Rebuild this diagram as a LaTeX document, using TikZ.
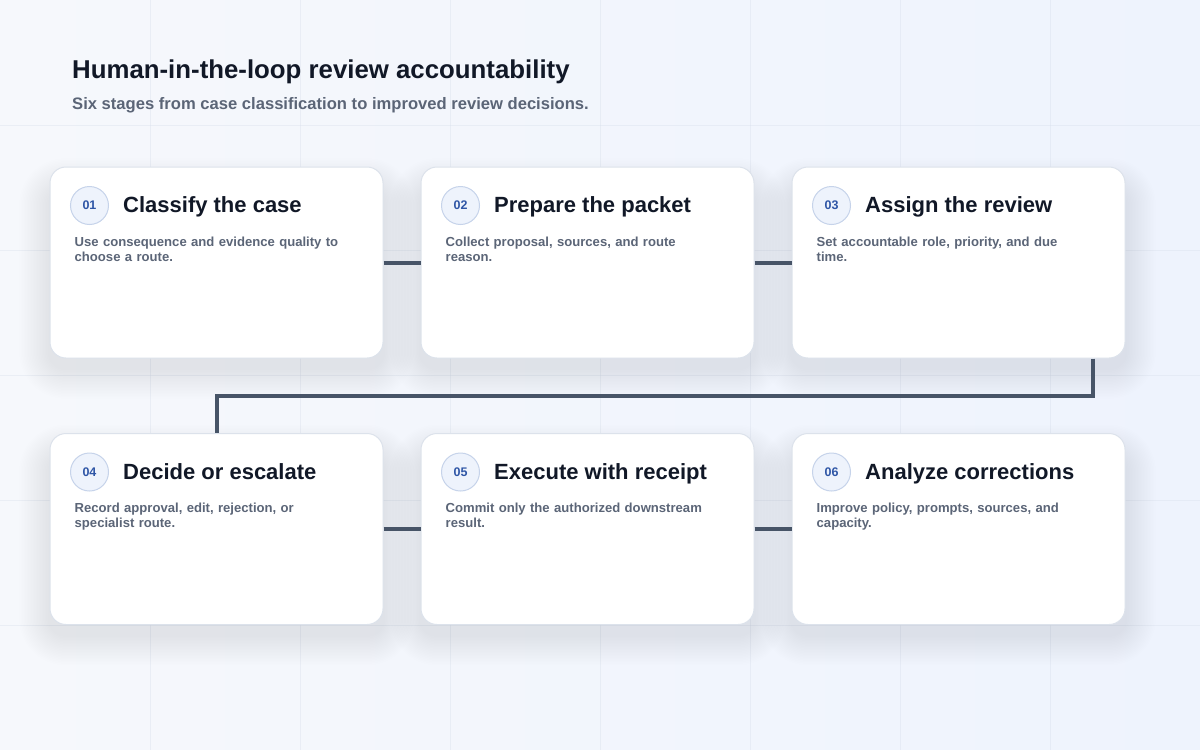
\documentclass[tikz,border=0pt]{standalone}
\usepackage{fontspec}
\setmainfont{Liberation Sans}
\usetikzlibrary{positioning}
\definecolor{hl-ink}{HTML}{111827}
\definecolor{hl-muted}{HTML}{5B6577}
\definecolor{hl-blue}{HTML}{2F56A6}
\definecolor{hl-ring}{HTML}{C6D3EA}
\definecolor{hl-disc}{HTML}{EEF3FC}
\definecolor{hl-edge}{HTML}{DCE2EB}
\definecolor{hl-link}{HTML}{475467}
\definecolor{hl-grid}{HTML}{D5DDEA}
\definecolor{hl-bgA}{HTML}{F6F8FC}
\definecolor{hl-bgB}{HTML}{EEF3FD}
\definecolor{hl-shadow}{HTML}{8A94A8}
\pgfdeclarelayer{bg}
\pgfdeclarelayer{shade}
\pgfsetlayers{bg,shade,main}
\hyphenpenalty=10000
\exhyphenpenalty=10000

\begin{document}
\begin{tikzpicture}[x=1pt, y=-1pt,
    card/.style={draw=hl-edge, line width=1pt, fill=white, rounded corners=16pt,
        minimum width=333pt, minimum height=191pt, inner sep=0pt},
    badge/.style={circle, draw=hl-ring, line width=1pt, fill=hl-disc, minimum size=38pt,
        inner sep=0pt, text=hl-blue, font=\fontsize{12.5}{14}\selectfont\bfseries},
    head/.style={anchor=base west, inner sep=0pt, text=hl-ink, font=\fontsize{22}{26}\selectfont\bfseries},
    blurb/.style={anchor=north west, inner sep=0pt, text width=270pt, align=left,
        text=hl-muted, font=\fontsize{13.1}{15}\selectfont\bfseries},
    link/.style={draw=hl-link, line width=4pt}]
            \useasboundingbox (0, 0) rectangle (1200, 750);
            \begin{pgfonlayer}{bg}
                \shade[left color=hl-bgA, right color=hl-bgB] (0, 0) rectangle (1200, 750);
                \foreach \gx in {150, 300, ..., 1050} \draw[hl-grid, opacity=0.35] (\gx, 0) -- (\gx, 750);
                \foreach \gy in {125, 250, ..., 625} \draw[hl-grid, opacity=0.35] (0, \gy) -- (1200, \gy);
            \end{pgfonlayer}

            \node[anchor=base west, inner sep=0pt, text=hl-ink, font=\fontsize{25.8}{30}\selectfont\bfseries]
                (title) at (72, 78) {Human-in-the-loop review accountability};
            \node[anchor=base west, inner sep=0pt, text=hl-muted, font=\fontsize{16.6}{19}\selectfont\bfseries]
                (subtitle) at (72, 109) {Six stages from case classification to improved review decisions.};

            % top row
            \node[card] (c1) at (216.5, 262.5) {};
            \node[badge] (n1) at ([shift={(40, 39)}]c1.north west) {01};
            \node[head] (t1) at ([shift={(14, 7)}]n1.east) {Classify the case};
            \node[blurb] (d1) at ([shift={(25, 70)}]c1.north west) {Use consequence and evidence quality to choose a route.};

            \node[card] (c2) at (587.5, 262.5) {};
            \node[badge] (n2) at ([shift={(40, 39)}]c2.north west) {02};
            \node[head] (t2) at ([shift={(14, 7)}]n2.east) {Prepare the packet};
            \node[blurb] (d2) at ([shift={(25, 70)}]c2.north west) {Collect proposal, sources, and route reason.};

            \node[card] (c3) at (958.5, 262.5) {};
            \node[badge] (n3) at ([shift={(40, 39)}]c3.north west) {03};
            \node[head] (t3) at ([shift={(14, 7)}]n3.east) {Assign the review};
            \node[blurb] (d3) at ([shift={(25, 70)}]c3.north west) {Set accountable role, priority, and due time.};

            % bottom row
            \node[card] (c4) at (216.5, 529) {};
            \node[badge] (n4) at ([shift={(40, 39)}]c4.north west) {04};
            \node[head] (t4) at ([shift={(14, 7)}]n4.east) {Decide or escalate};
            \node[blurb] (d4) at ([shift={(25, 70)}]c4.north west) {Record approval, edit, rejection, or specialist route.};

            \node[card] (c5) at (587.5, 529) {};
            \node[badge] (n5) at ([shift={(40, 39)}]c5.north west) {05};
            \node[head] (t5) at ([shift={(14, 7)}]n5.east) {Execute with receipt};
            \node[blurb] (d5) at ([shift={(25, 70)}]c5.north west) {Commit only the authorized downstream result.};

            \node[card] (c6) at (958.5, 529) {};
            \node[badge] (n6) at ([shift={(40, 39)}]c6.north west) {06};
            \node[head] (t6) at ([shift={(14, 7)}]n6.east) {Analyze corrections};
            \node[blurb] (d6) at ([shift={(25, 70)}]c6.north west) {Improve policy, prompts, sources, and capacity.};

            \begin{pgfonlayer}{shade}
                \foreach \n in {c1, c2, c3, c4, c5, c6}
                    \foreach \k in {1, ..., 20}
                        \fill[hl-shadow, opacity=0.008, rounded corners={(16+1.5*\k)*1pt}]
                            ([shift={({-1.5*\k}, {22-1.5*\k})}]\n.north west) rectangle ([shift={({1.5*\k}, {10+1.5*\k})}]\n.south east);
            \end{pgfonlayer}

            \draw[link] (c1.east) -- (c2.west);
            \draw[link] (c2.east) -- (c3.west);
            \draw[link] ([xshift=-33pt]c3.south east) -- ++(0, 37) -| (c4.north);
            \draw[link] (c4.east) -- (c5.west);
            \draw[link] (c5.east) -- (c6.west);
        \end{tikzpicture}
\end{document}
